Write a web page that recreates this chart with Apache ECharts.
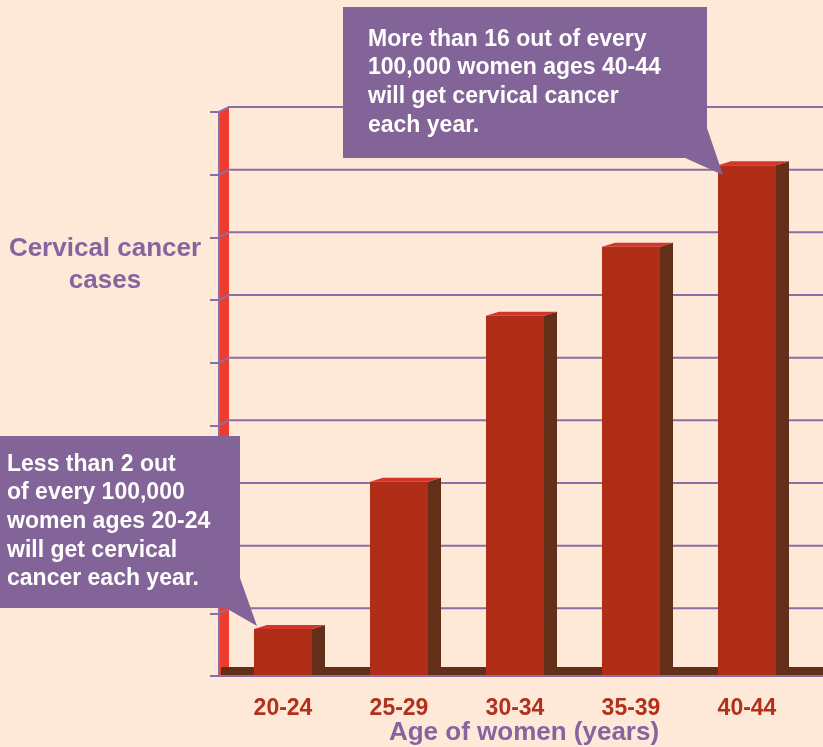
<!DOCTYPE html>
<html>
<head>
<meta charset="utf-8">
<script src="https://cdn.jsdelivr.net/npm/echarts@6/dist/echarts.min.js"></script>
<style>
html,body{margin:0;padding:0;background:#fee8d8;}
#chart{width:823px;height:747px;}
</style>
</head>
<body>
<div id="chart"></div>
<script>
var ageGroups = ['20-24', '25-29', '30-34', '35-39', '40-44'];
var casesPer100k = [1.5, 6.2, 11.5, 13.7, 16.3];
var yTicks = [2, 4, 6, 8, 10, 12, 14, 16, 18];

var purple = '#836498';
var lineColor = '#8c6ea5';
var front = '#b02d18', topFace = '#d4352a', side = '#632f18';

var chart = echarts.init(document.getElementById('chart'));

// back wall grid lines, drawn with a small slant like the original 3D look
function gridItem(params, api) {
  var cs = params.coordSys;
  var y = api.coord([0, api.value(0)])[1];
  var x0 = cs.x - 6;
  return {
    type: 'polyline',
    shape: {points: [[x0, y], [cs.x + 4, y - 5], [823, y - 5]]},
    style: {stroke: lineColor, lineWidth: 2, fill: null}
  };
}

// left red wall + brown floor
function frameItem(params, api) {
  var cs = params.coordSys;
  var bottom = cs.y + cs.height;
  var top = api.coord([0, api.value(0)])[1];
  return {
    type: 'group',
    children: [
      {type: 'polygon', shape: {points: [[cs.x - 5, bottom], [cs.x - 5, top], [cs.x + 4, top - 5], [cs.x + 4, bottom]]},
        style: {fill: '#ef3b2e'}},
      {type: 'rect', shape: {x: cs.x - 4, y: bottom - 9, width: 823 - cs.x + 4, height: 9},
        style: {fill: side}}
    ]
  };
}

function barItem(params, api) {
  var base = api.coord([api.value(0), 0]);
  var top = api.coord([api.value(0), api.value(1)]);
  var w = 58, dx = 13, dy = 4;
  var x0 = base[0] - w / 2, x1 = base[0] + w / 2;
  return {
    type: 'group',
    children: [
      {type: 'polygon', shape: {points: [[x1, top[1]], [x1 + dx, top[1] - dy], [x1 + dx, base[1] - dy], [x1, base[1]]]},
        style: {fill: side}},
      {type: 'polygon', shape: {points: [[x0, top[1]], [x0 + dx, top[1] - dy], [x1 + dx, top[1] - dy], [x1, top[1]]]},
        style: {fill: topFace}},
      {type: 'rect', shape: {x: x0, y: top[1], width: w, height: base[1] - top[1]},
        style: {fill: front}}
    ]
  };
}

var textFont = 'bold 23px "Liberation Sans", Arial, sans-serif';
var titleFont = 'bold 26px "Liberation Sans", Arial, sans-serif';

chart.setOption({
  backgroundColor: '#fee8d8',
  animation: false,
  // grid runs past the right edge so the five bars keep their spacing
  grid: {left: 225, width: 696, top: 112, bottom: 71, outerBoundsMode: 'none'},
  xAxis: {
    type: 'category',
    data: ageGroups.concat(['']),
    z: 5,
    axisLine: {lineStyle: {color: lineColor, width: 2}},
    axisTick: {alignWithLabel: true, length: 11, lineStyle: {color: lineColor, width: 2}},
    axisLabel: {color: '#b3301c', fontSize: 23, fontWeight: 'bold', fontFamily: 'Liberation Sans', margin: 21}
  },
  yAxis: {
    type: 'value',
    min: 0, max: 18, interval: 2,
    offset: 6,
    axisLine: {show: true, lineStyle: {color: lineColor, width: 2}},
    axisTick: {show: true, length: 9, lineStyle: {color: lineColor, width: 2}},
    axisLabel: {show: false},
    splitLine: {show: false}
  },
  series: [
    {type: 'custom', renderItem: frameItem, data: [[18]], z: 1, silent: true},
    {type: 'custom', renderItem: gridItem, data: yTicks.map(function (v) { return [v]; }), z: 2, silent: true},
    {type: 'custom', renderItem: barItem, data: casesPer100k.map(function (v, i) { return [i, v]; }), z: 3}
  ],
  graphic: [
    {type: 'line', shape: {x1: 210, y1: 676, x2: 232, y2: 676}, style: {stroke: lineColor, lineWidth: 2}, z: 50},
    {type: 'text', x: 105, y: 233, z: 50,
      style: {text: 'Cervical cancer\ncases', font: titleFont,
        fill: '#8565a0', align: 'center', lineHeight: 32}},
    {type: 'text', x: 524, y: 720, z: 50,
      style: {text: 'Age of women (years)', font: titleFont, fill: '#8565a0', align: 'center'}},
    // callout bottom-left
    {type: 'rect', shape: {x: 0, y: 436, width: 240, height: 172}, style: {fill: purple}, z: 60},
    {type: 'polygon', shape: {points: [[224, 607], [240, 578], [257, 626]]}, style: {fill: purple}, z: 60},
    {type: 'text', x: 7, y: 450, z: 61,
      style: {text: 'Less than 2 out\nof every 100,000\nwomen ages 20-24\nwill get cervical\ncancer each year.',
        font: textFont, fill: '#ffffff', lineHeight: 28.7}},
    // callout top
    {type: 'rect', shape: {x: 343, y: 7, width: 364, height: 151}, style: {fill: purple}, z: 60},
    {type: 'polygon', shape: {points: [[683, 157], [707, 128], [723, 175]]}, style: {fill: purple}, z: 60},
    {type: 'text', x: 368, y: 25, z: 61,
      style: {text: 'More than 16 out of every\n100,000 women ages 40-44\nwill get cervical cancer\neach year.',
        font: textFont, fill: '#ffffff', lineHeight: 28.7}}
  ]
});
</script>
</body>
</html>
